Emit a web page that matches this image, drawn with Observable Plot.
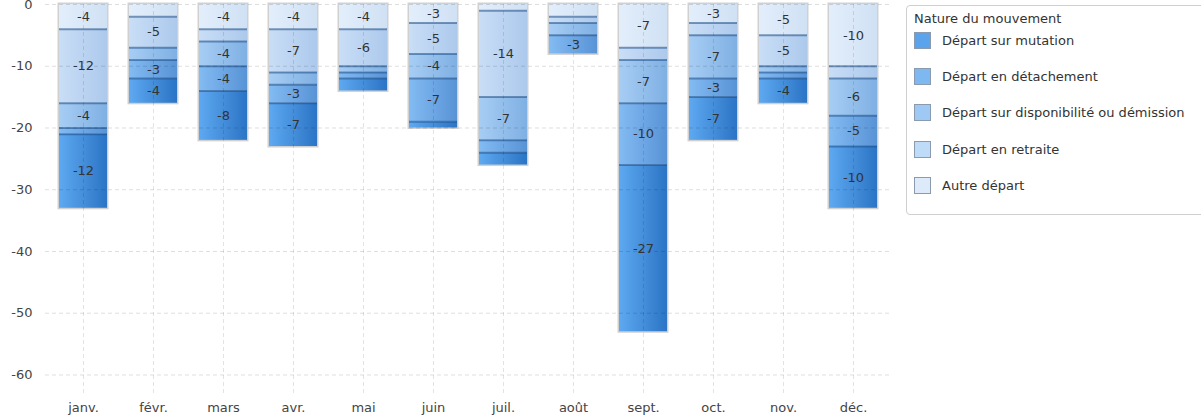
<!DOCTYPE html>
<html>
<head>
<meta charset="utf-8">
<script src="https://cdn.jsdelivr.net/npm/d3@7"></script>
<script src="https://cdn.jsdelivr.net/npm/@observablehq/plot@0.6"></script>
<style>
  body { margin: 0; background: #fff; font-family: "DejaVu Sans", sans-serif; }
  #wrap { position: relative; width: 1201px; height: 418px; overflow: hidden; }
  #legend { position: absolute; left: 906px; top: 5px; width: 310px; height: 210px;
    border: 1px solid #cfcfcf; border-radius: 4px; box-sizing: border-box; background: #fff;
    font-size: 13px; color: #333; }
  #legend .title { position: absolute; left: 7px; top: 5px; }
  #legend .row { position: absolute; left: 7px; height: 18px; display: flex; align-items: center; }
  #legend .sw { width: 17px; height: 17px; border: 1px solid #8a9bb0; box-sizing: border-box; margin-right: 11px; }
</style>
</head>
<body>
<div id="wrap"><div id="chart"></div><div id="legend"></div></div>
<script>
const months = ["janv.","févr.","mars","avr.","mai","juin","juil.","août","sept.","oct.","nov.","déc."];
const series = ["Autre départ","Départ en retraite","Départ sur disponibilité ou démission","Départ en détachement","Départ sur mutation"];
const autre     = [-4, -2, -4, -4, -4, -3, -1, -2, -7, -3, -5, -10];
const retraite  = [-12, -5, -2, -7, -6, -5, -14, -1, -2, -2, -5, -2];
const dispo     = [-4, -2, -4, -2, -1, -4, -7, -2, -7, -7, -1, -6];
const detach    = [-1, -3, -4, -3, -1, -7, -2, -3, -10, -3, -1, -5];
const mutation  = [-12, -4, -8, -7, -2, -1, -2, 0, -27, -7, -4, -10];
const yTicks = [0, -10, -20, -30, -40, -50, -60];
const legendOrder = ["Départ sur mutation","Départ en détachement","Départ sur disponibilité ou démission","Départ en retraite","Autre départ"];
const legendColors = ["#5ba3ea","#7db8f0","#9dc9f4","#bedbf7","#dceafa"];

const values = [autre, retraite, dispo, detach, mutation];
const data = [];
series.forEach((s, i) => months.forEach((m, j) => data.push({month: m, series: s, value: values[i][j]})));

// gradient colours (left -> right) per series
const grads = [
  ["#e3eefb", "#d0e1f4"],
  ["#c9def6", "#acc9ec"],
  ["#a7cdf4", "#7fb0e3"],
  ["#83bbf2", "#5893d6"],
  ["#5ea9f0", "#2b74c6"]
];

const chart = Plot.plot({
  width: 1201,
  height: 418,
  marginTop: 4,
  marginBottom: 25,
  marginLeft: 45,
  marginRight: 311,
  style: {fontFamily: "DejaVu Sans, sans-serif", fontSize: "13px", color: "#444", background: "#fff", overflow: "visible"},
  x: {domain: months, paddingInner: 0.32, paddingOuter: 0.16, label: null, tickSize: 0, tickPadding: 9},
  y: {domain: [-63, 0], ticks: yTicks, tickFormat: d => d === 0 ? "0" : "-" + Math.abs(d), label: null, tickSize: 0, tickPadding: 13},
  color: {domain: series, range: series.map((s, i) => `url(#g${i})`)},
  opacity: {type: "identity"},
  marks: [
    () => {
      const ns = "http://www.w3.org/2000/svg";
      const defs = document.createElementNS(ns, "defs");
      grads.forEach((g, i) => {
        const lg = document.createElementNS(ns, "linearGradient");
        lg.setAttribute("id", "g" + i);
        lg.setAttribute("x1", "0"); lg.setAttribute("x2", "1"); lg.setAttribute("y1", "0"); lg.setAttribute("y2", "0");
        [[0, g[0]], [1, g[1]]].forEach(([o, c]) => {
          const st = document.createElementNS(ns, "stop");
          st.setAttribute("offset", o); st.setAttribute("stop-color", c);
          lg.appendChild(st);
        });
        defs.appendChild(lg);
      });
      return defs;
    },
    // bar outline / shadow
    Plot.barY(data, Plot.groupX({y: "sum"}, {x: "month", y: "value", fill: "none", stroke: "#c4c4c4", strokeWidth: 3, strokeOpacity: 0.8})),
    Plot.barY(data, Plot.stackY({x: "month", y: "value", z: "series", fill: "series"})),
    // dark separator at the top of each inner segment
    Plot.tickY(data, Plot.stackY1({x: "month", y: "value", z: "series",
      strokeOpacity: d => (d.series === "Autre départ" || d.value === 0) ? 0 : 0.55,
      stroke: "#1f4f86", strokeWidth: 2})),
    Plot.gridY(yTicks, {stroke: "#000", strokeOpacity: 0.13, strokeDasharray: "4,3"}),
    Plot.gridX(months, {stroke: "#000", strokeOpacity: 0.11, strokeDasharray: "4,3"}),
    Plot.text(data, Plot.stackY({x: "month", y: "value", z: "series",
      text: d => d.value <= -3 ? String(d.value) : "",
      fill: "#333", fontSize: 13}))
  ]
});
document.getElementById("chart").appendChild(chart);

const lg = document.getElementById("legend");
const t = document.createElement("div");
t.className = "title"; t.textContent = "Nature du mouvement";
lg.appendChild(t);
legendOrder.forEach((s, i) => {
  const r = document.createElement("div");
  r.className = "row";
  r.style.top = (25.5 + i * 36.2) + "px";
  const sw = document.createElement("div");
  sw.className = "sw"; sw.style.background = legendColors[i];
  const tx = document.createElement("span");
  tx.textContent = s;
  r.appendChild(sw); r.appendChild(tx);
  lg.appendChild(r);
});
</script>
</body>
</html>
